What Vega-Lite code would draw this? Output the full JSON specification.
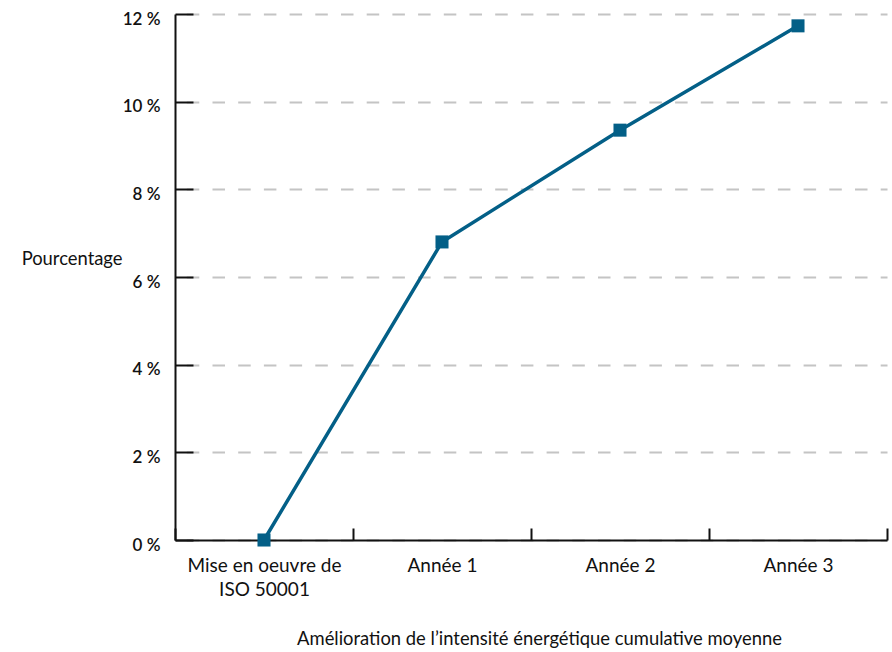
{
  "$schema": "https://vega.github.io/schema/vega-lite/v6.json",
  "autosize": {"type": "none"},
  "padding": {"left": 175, "top": 14, "right": 5, "bottom": 112},
  "width": 712,
  "height": 526,
  "background": "white",
  "config": {
    "view": {"stroke": null},
    "font": "Lato"
  },
  "data": {
    "values": [
      {"etape": "Mise en oeuvre de ISO 50001", "pct": 0},
      {"etape": "Année 1", "pct": 6.8},
      {"etape": "Année 2", "pct": 9.35},
      {"etape": "Année 3", "pct": 11.73}
    ]
  },
  "encoding": {
    "x": {
      "field": "etape",
      "type": "nominal",
      "sort": null,
      "scale": {"paddingInner": 0, "paddingOuter": 0},
      "axis": {
        "title": "Amélioration de l’intensité énergétique cumulative moyenne",
        "titleFont": "Lato",
        "titleFontSize": 18.4,
        "titleFontWeight": "normal",
        "titleColor": "#111111",
        "titleBaseline": "middle",
        "titleX": 364,
        "titleY": 98,
        "labelAngle": 0,
        "labelFont": "Lato",
        "labelFontSize": 19,
        "labelColor": "#111111",
        "labelPadding": 28,
        "labelLineHeight": 24,
        "labelExpr": "datum.value == 'Mise en oeuvre de ISO 50001' ? ['Mise en oeuvre de', 'ISO 50001'] : datum.value",
        "domainColor": "#111111",
        "domainWidth": 2,
        "tickColor": "#111111",
        "tickWidth": 2,
        "tickSize": -12,
        "tickBand": "extent",
        "grid": false
      }
    },
    "y": {
      "field": "pct",
      "type": "quantitative",
      "scale": {"domain": [0, 12], "nice": false},
      "axis": {
        "title": "Pourcentage",
        "titleFont": "Lato",
        "titleFontSize": 18.4,
        "titleFontWeight": "normal",
        "titleColor": "#111111",
        "titleAngle": 0,
        "titleAlign": "right",
        "titleBaseline": "middle",
        "titleX": -53,
        "titleY": 244,
        "values": [0, 2, 4, 6, 8, 10, 12],
        "labelExpr": "datum.value + ' %'",
        "labelFont": "Lato",
        "labelFontSize": 17,
        "labelFontWeight": 600,
        "labelColor": "#111111",
        "labelPadding": 33,
        "labelOffset": 5,
        "domainColor": "#111111",
        "domainWidth": 2,
        "tickColor": "#111111",
        "tickWidth": 2,
        "tickSize": -18,
        "grid": true,
        "gridColor": "#c4c4c4",
        "gridWidth": 2,
        "gridDash": [12.5, 13.2],
        "gridDashOffset": 14.4
      }
    }
  },
  "layer": [
    {
      "mark": {"type": "line", "color": "#035f87", "strokeWidth": 3.5}
    },
    {
      "mark": {"type": "point", "shape": "square", "filled": true, "opacity": 1, "color": "#035f87", "size": 170}
    }
  ]
}
